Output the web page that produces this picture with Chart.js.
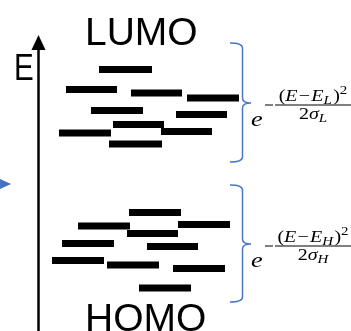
<!DOCTYPE html>
<html><head><meta charset="utf-8">
<script src="https://cdn.jsdelivr.net/npm/chart.js@4"></script>
<style>html,body{margin:0;padding:0;background:#fff;overflow:hidden}</style>
</head><body>
<canvas id="c" width="351" height="331"></canvas>
<script>
// LUMO levels: energy (arbitrary units, up = higher) and horizontal extents
const lumoEnergy = [261.5, 241.5, 238, 233, 220.5, 216.5, 206.5, 198, 199.5, 187];
const lumoStart  = [99, 66, 131, 187, 91, 176, 113, 59, 161, 109];
const lumoEnd    = [152, 117, 182, 239, 143, 227, 164, 111, 212, 162];
// HOMO levels
const homoEnergy = [118.5, 105, 106.5, 97.5, 87.5, 84.5, 70.5, 66, 62.5, 43];
const homoStart  = [129, 78, 178, 127, 62, 147, 52, 107, 173, 139];
const homoEnd    = [181, 130, 230, 178, 114, 198, 104, 159, 225, 191];
// band centres (energy where the Gaussian brace points)
const bandCentre = [228, 87];
const bandLabels = ['LUMO', 'HOMO'];
const bandSub    = ['L', 'H'];
const axisLabel  = 'E';

const datasets = [];
function addLevels(E, S, T) {
  for (let i = 0; i < E.length; i++) {
    datasets.push({
      data: [{x: S[i], y: E[i]}, {x: T[i], y: E[i]}],
      showLine: true, borderColor: '#000', backgroundColor: '#000',
      borderWidth: 7, borderCapStyle: 'butt', pointRadius: 0, clip: false
    });
  }
}
addLevels(lumoEnergy, lumoStart, lumoEnd);
addLevels(homoEnergy, homoStart, homoEnd);
// energy axis shaft
datasets.push({
  data: [{x: 38.5, y: -5}, {x: 38.5, y: 283}],
  showLine: true, borderColor: '#000', borderWidth: 2.5, pointRadius: 0, clip: false
});

const BLUE = '#4a78c8';

function drawSeq(ctx, pieces, x, y, doDraw) {
  for (const p of pieces) {
    ctx.font = p.f;
    if (doDraw) ctx.fillText(p.t, x + (p.pl || 0), y + (p.dy || 0));
    x += ctx.measureText(p.t).width + (p.pl || 0) + (p.pr || 0);
  }
  return x;
}

const deco = {
  id: 'deco',
  afterDatasetsDraw(chart) {
    const ctx = chart.ctx, xs = chart.scales.x, ys = chart.scales.y;
    const px = v => xs.getPixelForValue(v), py = v => ys.getPixelForValue(v);
    ctx.save();
    ctx.fillStyle = '#000';
    // arrow head
    ctx.beginPath();
    ctx.moveTo(px(38.5), py(296));
    ctx.lineTo(px(45.5), py(281));
    ctx.lineTo(px(31.5), py(281));
    ctx.closePath();
    ctx.fill();
    // axis label
    ctx.textBaseline = 'alphabetic';
    ctx.save();
    ctx.translate(px(14), py(251));
    ctx.scale(0.8, 1);
    ctx.font = '37px "Liberation Sans"';
    ctx.fillText(axisLabel, 0, 0);
    ctx.restore();
    // band labels
    ctx.font = '39px "Liberation Sans"';
    ctx.fillText(bandLabels[0], px(85), py(286));
    ctx.fillText(bandLabels[1], px(85), py(0));
    // blue triangle at left
    ctx.fillStyle = '#4472c4';
    ctx.beginPath();
    ctx.moveTo(px(-2), py(153));
    ctx.lineTo(px(11), py(147));
    ctx.lineTo(px(-2), py(141));
    ctx.closePath();
    ctx.fill();
    // braces + formulas
    const tops = [288, 146], bots = [169, 29];
    for (let b = 0; b < 2; b++) {
      const yT = py(tops[b]), yB = py(bots[b]), yM = py(bandCentre[b]);
      const xL = px(230), xV = px(242.5), xTip = px(251);
      const r = 5;
      ctx.strokeStyle = BLUE; ctx.lineWidth = 1.5;
      ctx.beginPath();
      ctx.moveTo(xL, yT);
      ctx.quadraticCurveTo(xV, yT, xV, yT + r);
      ctx.lineTo(xV, yM - r);
      ctx.quadraticCurveTo(xV, yM, xTip, yM);
      ctx.quadraticCurveTo(xV, yM, xV, yM + r);
      ctx.lineTo(xV, yB - r);
      ctx.quadraticCurveTo(xV, yB, xL, yB);
      ctx.stroke();
      // formula
      ctx.fillStyle = '#000';
      ctx.save();
      ctx.translate(px(251), 0);
      ctx.scale(1.25, 1);
      ctx.font = 'italic 21px "Liberation Serif"';
      ctx.fillText('e', 0, yM + 23);
      ctx.restore();
      ctx.strokeStyle = '#000'; ctx.lineWidth = 1;
      ctx.beginPath();
      ctx.moveTo(px(265), yM + 2); ctx.lineTo(px(273), yM + 2);
      ctx.moveTo(px(275), yM + 2); ctx.lineTo(px(351), yM + 2);
      ctx.stroke();
      const M = '16px "Liberation Serif"', MI = 'italic 16px "Liberation Serif"';
      const S = '12px "Liberation Serif"', SI = 'italic 12px "Liberation Serif"';
      const num = [
        {t: '(', f: M}, {t: 'E', f: MI}, {t: '−', f: M, pl: 1, pr: 1}, {t: 'E', f: MI},
        {t: bandSub[b], f: SI, dy: 3}, {t: ')', f: M, pl: 1}, {t: '2', f: S, dy: -7}
      ];
      const den = [{t: '2', f: M}, {t: 'σ', f: MI}, {t: bandSub[b], f: SI, dy: 3}];
      const sx = 1.25;
      const wn = drawSeq(ctx, num, 0, 0, false) * sx;
      const wd = drawSeq(ctx, den, 0, 0, false) * sx;
      const cx = px(313);
      ctx.save(); ctx.translate(cx - wn / 2, yM - 2); ctx.scale(sx, 1);
      drawSeq(ctx, num, 0, 0, true); ctx.restore();
      ctx.save(); ctx.translate(cx - wd / 2, yM + 16); ctx.scale(sx, 1);
      drawSeq(ctx, den, 0, 0, true); ctx.restore();
    }
    ctx.restore();
  }
};

new Chart(document.getElementById('c'), {
  type: 'scatter',
  data: {datasets},
  options: {
    responsive: false, animation: false,
    layout: {padding: 0},
    plugins: {legend: {display: false}, tooltip: {enabled: false}},
    scales: {
      x: {type: 'linear', min: 0, max: 351, display: false},
      y: {type: 'linear', min: 0, max: 331, display: false}
    }
  },
  plugins: [deco]
});
</script>
</body></html>
